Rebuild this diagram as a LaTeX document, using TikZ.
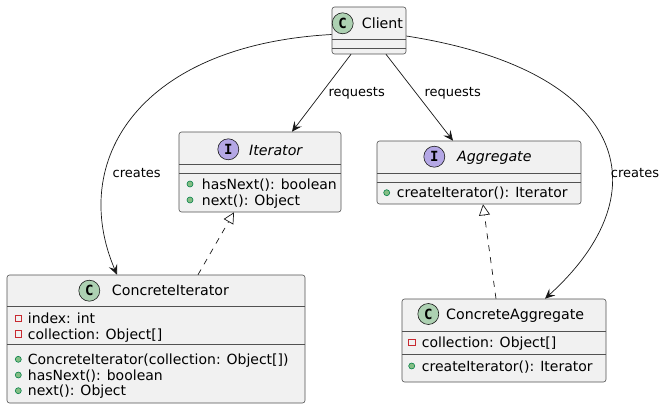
\documentclass[tikz,border=0pt]{standalone}
\usepackage{fontspec}
\setmainfont{DejaVu Sans}
\newfontfamily\circfont{DejaVu Sans Mono}
\usetikzlibrary{arrows.meta}
\definecolor{lc}{HTML}{181818}
\definecolor{boxbg}{HTML}{F1F1F1}
\definecolor{cgreen}{HTML}{ADD1B2}
\definecolor{ipurple}{HTML}{B4A7E5}
\definecolor{pubfill}{HTML}{84BE84}
\definecolor{pubdraw}{HTML}{038048}
\definecolor{privdraw}{HTML}{C82930}
\begin{document}
\begin{tikzpicture}[x=1pt,y=-1pt,
  box/.style={draw=lc!75, fill=boxbg, line width=0.6pt, rounded corners=2.5pt, inner sep=0pt},
  sepline/.style={draw=lc!75, line width=0.6pt},
  cname/.style={anchor=base west, inner sep=0pt, font=\fontsize{14.2}{17}\selectfont},
  iname/.style={cname, font=\fontsize{14.2}{17}\selectfont\itshape},
  mem/.style={anchor=base west, inner sep=0pt, font=\fontsize{14}{17}\selectfont},
  lbl/.style={inner sep=0pt, font=\fontsize{13}{16}\selectfont},
  badge/.style={circle, draw=lc, line width=0.6pt, minimum size=21pt, inner sep=0pt, font={\circfont\bfseries\fontsize{14}{14}\selectfont}},
  badgeC/.style={badge, fill=cgreen},
  badgeI/.style={badge, fill=ipurple},
  pub/.style={circle, draw=pubdraw, fill=pubfill, minimum size=6pt, inner sep=0pt, line width=0.6pt},
  priv/.style={rectangle, draw=privdraw, minimum size=6.5pt, inner sep=0pt, line width=0.7pt},
  assoc/.style={draw=lc, line width=0.7pt, -{Stealth[length=10pt,width=9pt,inset=4pt]}},
  real/.style={draw=lc, line width=0.7pt, dash pattern=on 6pt off 6pt, -{Triangle[open,length=11pt,width=11pt,fill=white]}}
]
\fill[white] (0,0) rectangle (666,409);
\useasboundingbox (0,0) rectangle (666,409);

% Client
\node[box, minimum width=74pt, minimum height=47pt] (client) at (369,30.5) {};
\draw[sepline] (332,39) -- (406,39);
\draw[sepline] (332,48) -- (406,48);
\node[badgeC] (clientB) at (342.7,23.3) {C};
\node[cname] (clientN) at (361.7,28.3) {Client};

% Iterator
\node[box, minimum width=162pt, minimum height=80pt] (iter) at (260,172) {};
\draw[sepline] (179,164) -- (341,164);
\draw[sepline] (179,173) -- (341,173);
\node[badgeI] (iterB) at (228.3,149.3) {I};
\node[iname] (iterN) at (249,155) {Iterator};
\node[pub] (iterD1) at (190,184) {};
\node[mem] (iterM1) at (201.7,189) {hasNext(): boolean};
\node[pub] (iterD2) at (190,200) {};
\node[mem] (iterM2) at (201.7,205) {next(): Object};

% Aggregate
\node[box, minimum width=204pt, minimum height=63pt] (agg) at (479,172.5) {};
\draw[sepline] (377,173) -- (581,173);
\draw[sepline] (377,182) -- (581,182);
\node[badgeI] (aggB) at (434.3,156.7) {I};
\node[iname] (aggN) at (457,161.7) {Aggregate};
\node[pub] (aggD1) at (386.7,192.7) {};
\node[mem] (aggM1) at (396.7,197.7) {createIterator(): Iterator};

% ConcreteIterator
\node[box, minimum width=298pt, minimum height=128pt] (ci) at (156,339) {};
\draw[sepline] (7,306) -- (305,306);
\draw[sepline] (7,344) -- (305,344);
\node[badgeC] (ciB) at (89.3,290.7) {C};
\node[cname] (ciN) at (111.7,295.7) {ConcreteIterator};
\node[priv] (ciS1) at (18.3,318.3) {};
\node[mem] (ciA1) at (27.7,323.3) {index: int};
\node[priv] (ciS2) at (18.3,334) {};
\node[mem] (ciA2) at (27.7,339) {collection: Object[]};
\node[pub] (ciD1) at (18.3,359.3) {};
\node[mem] (ciM1) at (27.7,364.3) {ConcreteIterator(collection: Object[])};
\node[pub] (ciD2) at (18.3,375) {};
\node[mem] (ciM2) at (27.7,380) {hasNext(): boolean};
\node[pub] (ciD3) at (18.3,390.7) {};
\node[mem] (ciM3) at (27.7,395.7) {next(): Object};

% ConcreteAggregate
\node[box, minimum width=204pt, minimum height=83pt] (ca) at (504,340.5) {};
\draw[sepline] (402,331) -- (606,331);
\draw[sepline] (402,354) -- (606,354);
\node[badgeC] (caB) at (428.3,314) {C};
\node[cname] (caN) at (446,319.3) {ConcreteAggregate};
\node[priv] (caS1) at (411.7,342.3) {};
\node[mem] (caA1) at (421.7,347.3) {collection: Object[]};
\node[pub] (caD1) at (411.7,366) {};
\node[mem] (caM1) at (421.7,371) {createIterator(): Iterator};

% connectors
\draw[assoc] ([xshift=-18pt]client.south) -- ([xshift=32pt]iter.north);
\draw[assoc] ([xshift=17pt]client.south) -- ([xshift=-26pt]agg.north);
\draw[assoc] ([yshift=-4pt]client.west) .. controls (140,45) and (68,160) .. ([xshift=-39pt]ci.north);
\draw[assoc] ([yshift=-5.5pt]client.east) .. controls (625,70) and (665,190) .. ([xshift=41pt]ca.north);
\draw[real] ([xshift=42pt]ci.north) -- ([xshift=-26pt]iter.south);
\draw[real] ([xshift=-8pt]ca.north) -- ([xshift=4pt]agg.south);

% labels
\node[lbl] (l1) at (356.7,93.3) {requests};
\node[lbl] (l2) at (452.7,93.3) {requests};
\node[lbl] (l3) at (136.7,172.7) {creates};
\node[lbl] (l4) at (635,172.7) {creates};
\end{tikzpicture}
\end{document}
